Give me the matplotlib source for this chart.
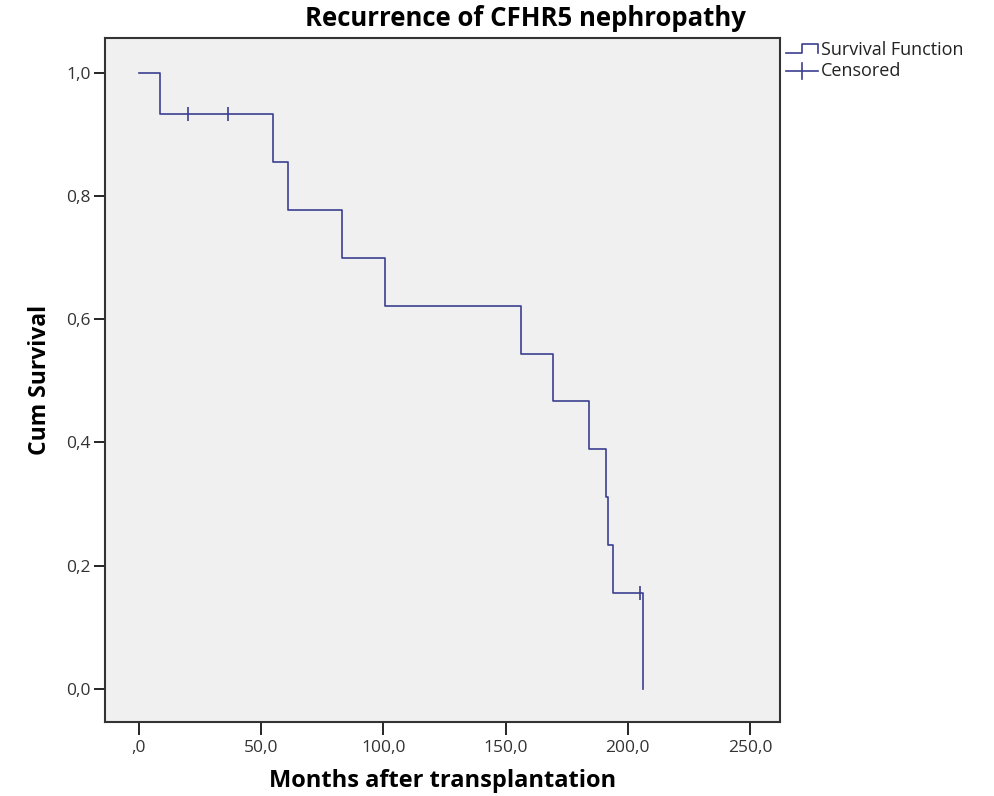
import matplotlib
matplotlib.use("Agg")
import matplotlib.pyplot as plt
from matplotlib.lines import Line2D

# Kaplan-Meier step data
step_times = [0.0, 8.6, 55.0, 61.0, 83.0, 100.7, 156.2, 169.4, 184.2, 191.2, 191.9, 194.1, 206.2]
step_surv = [1.0, 0.933, 0.856, 0.778, 0.700, 0.622, 0.544, 0.467, 0.389, 0.311, 0.233, 0.156, 0.0]
censor_times = [20.0, 36.5, 205.0]
censor_surv = [0.933, 0.933, 0.156]

x_ticks = [0, 50, 100, 150, 200, 250]
x_ticklabels = [",0", "50,0", "100,0", "150,0", "200,0", "250,0"]
y_ticks = [0.0, 0.2, 0.4, 0.6, 0.8, 1.0]
y_ticklabels = ["0,0", "0,2", "0,4", "0,6", "0,8", "1,0"]

title = "Recurrence of CFHR5 nephropathy"
xlabel = "Months after transplantation"
ylabel = "Cum Survival"
legend_labels = ["Survival Function", "Censored"]

line_color = "#3b3f8f"
font = ["Open Sans", "DejaVu Sans"]

fig = plt.figure(figsize=(9.95, 7.96), dpi=100)
ax = fig.add_axes([105/995, 1-722/796, (780-105)/995, (722-38)/796])
ax.set_facecolor("#f0f0f0")

ax.step(step_times, step_surv, where="post", color=line_color, lw=1.2)
ax.plot(censor_times, censor_surv, linestyle="none", marker="|", markersize=10,
        markeredgewidth=1.2, color=line_color)

ax.set_xlim(-13.9, 262.3)
ax.set_ylim(-0.054, 1.057)
ax.set_xticks(x_ticks)
ax.set_xticklabels(x_ticklabels, fontfamily=font, fontsize=12.5, color="#333333")
ax.set_yticks(y_ticks)
ax.set_yticklabels(y_ticklabels, fontfamily=font, fontsize=12.5, color="#333333")
ax.tick_params(axis="x", direction="out", length=9, width=1.2, pad=4)
ax.tick_params(axis="y", direction="out", length=8, width=1.2, pad=2)
for s in ax.spines.values():
    s.set_linewidth(1.5)
    s.set_color("#333333")

fig.text(525/995, 1-18/796, title, ha="center", va="center", fontsize=18.5,
         fontweight="bold", fontfamily=font)
fig.text(443/995, 1-781/796, xlabel, ha="center", va="center", fontsize=17,
         fontweight="bold", fontfamily=font)
fig.text(40/995, 1-380/796, ylabel, ha="center", va="center", fontsize=16.5,
         fontweight="bold", fontfamily=font, rotation=90)

# Legend drawn in figure pixel coordinates
def px(x, y):
    return x/995, 1-y/796

x0, x1, x2 = px(786, 0)[0], px(802, 0)[0], px(818, 0)[0]
ya = px(0, 53)[1]
yb = px(0, 44)[1]
fig.add_artist(Line2D([x0, x1, x1, x2, x2], [ya, ya, yb, yb, ya], color=line_color, lw=1.2))
yc = px(0, 71)[1]
fig.add_artist(Line2D([x0, x2], [yc, yc], color=line_color, lw=1.2))
fig.add_artist(Line2D([(x0+x2)/2, (x0+x2)/2], [px(0, 63)[1], px(0, 79)[1]], color=line_color, lw=1.2))
fig.text(px(821, 0)[0], px(0, 50)[1], legend_labels[0], ha="left", va="center",
         fontsize=13, fontfamily=font, color="#222222")
fig.text(px(821, 0)[0], px(0, 71)[1], legend_labels[1], ha="left", va="center",
         fontsize=13, fontfamily=font, color="#222222")

fig.savefig("out.png", dpi=100, facecolor="white")
